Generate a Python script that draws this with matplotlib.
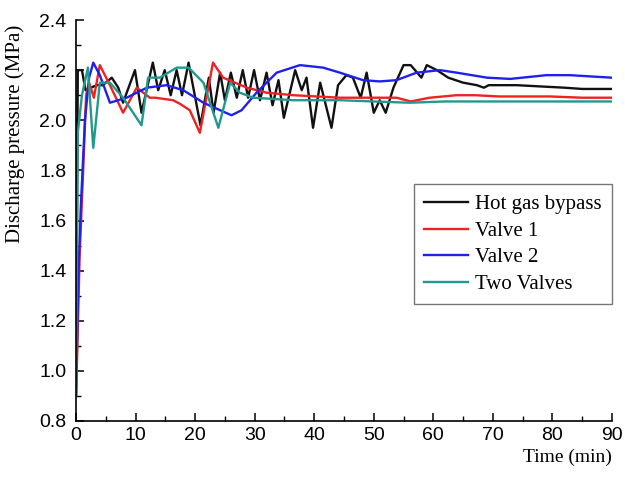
import matplotlib
matplotlib.use("Agg")
import matplotlib.pyplot as plt
from matplotlib.ticker import MultipleLocator

# Discharge pressure (MPa) against time (min) for four control strategies
t_hot = [0, 0.3, 1.0, 1.6, 2.5, 3.5, 4.5, 5.5, 6.0, 7.1, 7.9, 9.9, 11.0, 12.9, 13.8,
         14.9, 15.9, 16.9, 17.8, 18.9, 20.9, 22.3, 23.1, 24.2, 25.0, 26.0, 27.0, 28.0,
         28.9, 29.9, 30.9, 32.0, 33.0, 34.0, 34.9, 36.8, 37.9, 38.7, 39.8, 41.0, 42.9,
         44.0, 45.4, 46.5, 47.8, 48.8, 50.0, 51.0, 52.0, 53.3, 55.0, 56.2, 58.0, 58.9,
         60.6, 62.5, 65.0, 67.3, 68.5, 69.3, 74.0, 78.0, 82.0, 85.0, 90.0]
p_hot = [0.90, 2.20, 2.20, 2.12, 2.13, 2.14, 2.14, 2.16, 2.17, 2.13, 2.07, 2.20, 2.03,
         2.23, 2.12, 2.20, 2.10, 2.20, 2.10, 2.23, 1.98, 2.17, 2.03, 2.19, 2.08, 2.19,
         2.09, 2.20, 2.09, 2.20, 2.08, 2.19, 2.06, 2.16, 2.01, 2.20, 2.12, 2.17, 1.97,
         2.15, 1.97, 2.14, 2.18, 2.17, 2.09, 2.19, 2.03, 2.08, 2.03, 2.13, 2.22, 2.22,
         2.17, 2.22, 2.20, 2.17, 2.15, 2.14, 2.13, 2.14, 2.14, 2.135, 2.13, 2.125, 2.125]

t_v1 = [0, 0.2, 0.6, 1.2, 1.7, 2.2, 3.0, 4.0, 5.7, 7.9, 10.2, 12.4, 13.3, 16.3, 17.5,
        19.1, 20.8, 23.0, 24.7, 28.7, 32.0, 36.5, 44.3, 49.4, 53.8, 56.2, 59.4, 63.9,
        67.0, 71.0, 75.0, 79.6, 85.0, 90.0]
p_v1 = [0.90, 1.07, 1.45, 1.80, 2.10, 2.15, 2.09, 2.22, 2.14, 2.03, 2.13, 2.09, 2.09,
        2.08, 2.065, 2.04, 1.95, 2.23, 2.17, 2.13, 2.11, 2.10, 2.09, 2.09, 2.09, 2.075,
        2.09, 2.10, 2.10, 2.095, 2.095, 2.095, 2.09, 2.09]

t_v2 = [0, 0.4, 0.8, 1.5, 2.2, 2.9, 4.0, 5.7, 8.5, 11.9, 15.2, 18.0, 21.4, 24.2, 26.1,
        27.8, 30.3, 33.7, 37.6, 41.5, 44.3, 48.2, 51.0, 53.8, 57.2, 61.1, 63.9, 69.0,
        72.9, 79.0, 82.9, 89.9]
p_v2 = [0.90, 1.38, 1.65, 2.00, 2.17, 2.23, 2.18, 2.07, 2.09, 2.13, 2.14, 2.12, 2.07,
        2.04, 2.02, 2.04, 2.11, 2.19, 2.22, 2.21, 2.19, 2.16, 2.155, 2.16, 2.19, 2.20,
        2.19, 2.17, 2.165, 2.18, 2.18, 2.17]

t_two = [0, 0.3, 1.0, 2.0, 2.9, 4.0, 5.7, 7.9, 11.0, 12.1, 14.1, 16.9, 18.9, 21.4, 23.9,
         25.9, 27.5, 29.8, 36.5, 44.3, 50.0, 56.0, 62.0, 70.0, 80.0, 90.0]
p_two = [0.90, 1.95, 2.10, 2.21, 1.89, 2.15, 2.15, 2.09, 1.98, 2.17, 2.17, 2.21, 2.21,
         2.15, 1.97, 2.15, 2.11, 2.09, 2.08, 2.08, 2.075, 2.07, 2.075, 2.075, 2.075, 2.075]

labels = ["Hot gas bypass", "Valve 1", "Valve 2", "Two Valves"]
colors = ["#111111", "#ee2222", "#2020ee", "#22998c"]

fig = plt.figure(figsize=(6.25, 4.79), dpi=100)
ax = fig.add_axes([0.1216, 0.1211, 0.8576, 0.8371])

series = [(t_hot, p_hot), (t_v1, p_v1), (t_v2, p_v2), (t_two, p_two)]
for (t, p), lab, col in zip(series, labels, colors):
    ax.plot(t, p, color=col, lw=1.7, label=lab)

ax.set_xlim(0, 90)
ax.set_ylim(0.8, 2.4)
ax.xaxis.set_major_locator(MultipleLocator(10))
ax.xaxis.set_minor_locator(MultipleLocator(5))
ax.yaxis.set_major_locator(MultipleLocator(0.2))
ax.yaxis.set_minor_locator(MultipleLocator(0.1))
ax.yaxis.set_major_formatter(plt.FuncFormatter(lambda v, _: f"{v:.1f}"))

for s in ("top", "right"):
    ax.spines[s].set_visible(False)
for s in ("left", "bottom"):
    ax.spines[s].set_linewidth(1.2)

ax.tick_params(which="major", direction="in", length=6, width=1.1,
               labelsize=14, pad=4)
ax.tick_params(axis="y", which="major", pad=7)
ax.tick_params(which="minor", direction="in", length=3.5, width=1.0)
for lbl in ax.get_xticklabels() + ax.get_yticklabels():
    lbl.set_family("Liberation Sans")

ax.set_ylabel("Discharge pressure (MPa)", family="Liberation Serif", fontsize=15)
ax.yaxis.set_label_coords(-0.095, 0.715)
ax.set_xlabel("Time (min)", family="Liberation Serif", fontsize=14, loc="right",
              labelpad=4)

leg = ax.legend(loc="upper right", bbox_to_anchor=(1.0, 0.59), frameon=True,
                fancybox=False, framealpha=1, edgecolor="#777777",
                prop={"family": "Liberation Serif", "size": 15},
                handlelength=2.1, handletextpad=0.35, labelspacing=0.33,
                borderpad=0.5, borderaxespad=0.0)
leg.get_frame().set_linewidth(1.0)

fig.savefig("out.png", dpi=100, facecolor="white")
